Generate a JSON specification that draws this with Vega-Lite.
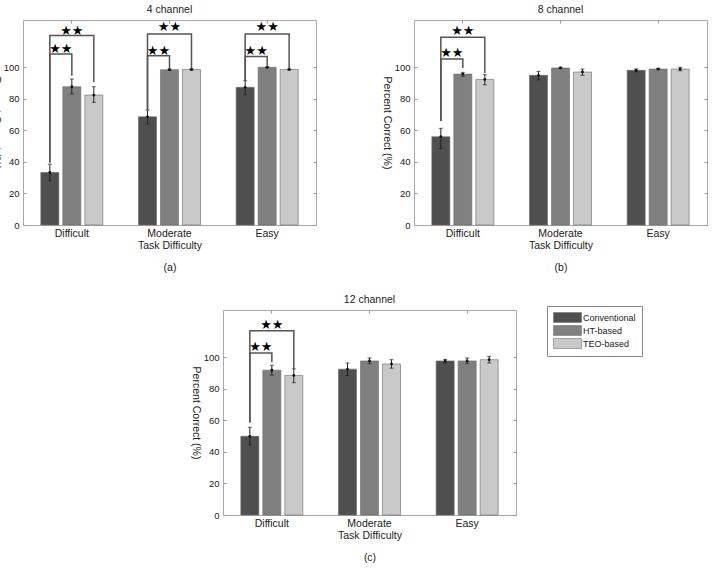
{
  "$schema": "https://vega.github.io/schema/vega-lite/v6.json",
  "background": "white",
  "padding": {"left": -11, "top": 4, "right": 0, "bottom": 0},
  "config": {
    "font": "Liberation Sans",
    "view": {"stroke": "#a8a8a8", "strokeWidth": 1},
    "axis": {"labelFont": "Liberation Sans", "labelFontSize": 10.5, "labelColor": "#222", "titleFont": "Liberation Sans", "titleFontSize": 10.5, "titleFontWeight": "normal", "titleColor": "#222", "tickColor": "#999", "domain": false, "grid": false},
    "axisY": {"labelFontSize": 9.5},
    "title": {"fontSize": 10.5, "fontWeight": "normal", "color": "#222", "frame": "group", "offset": 4, "font": "Liberation Sans"},
    "legend": {"orient": "none", "legendX": 524, "legendY": 286, "symbolType": "M-2.8,-1H2.8V1H-2.8Z", "symbolSize": 100, "symbolStrokeWidth": 0.6, "symbolStrokeColor": "#777", "labelFont": "Liberation Sans", "labelFontSize": 9, "labelColor": "#222", "strokeColor": "#888", "fillColor": "white", "padding": 6, "rowPadding": 0, "symbolOffset": 9, "labelOffset": 10}
  },
  "datasets": {
    "bars": [
      {"panel": "4 channel", "diff": "Difficult", "series": "Conventional", "mean": 33.3, "lo": 28.0, "hi": 38.6},
      {"panel": "4 channel", "diff": "Difficult", "series": "HT-based", "mean": 87.7, "lo": 83.1, "hi": 92.6},
      {"panel": "4 channel", "diff": "Difficult", "series": "TEO-based", "mean": 82.4, "lo": 77.8, "hi": 87.7},
      {"panel": "4 channel", "diff": "Moderate", "series": "Conventional", "mean": 68.6, "lo": 64.0, "hi": 72.9},
      {"panel": "4 channel", "diff": "Moderate", "series": "HT-based", "mean": 98.5, "lo": 98.0, "hi": 99.0},
      {"panel": "4 channel", "diff": "Moderate", "series": "TEO-based", "mean": 98.6, "lo": 98.2, "hi": 99.0},
      {"panel": "4 channel", "diff": "Easy", "series": "Conventional", "mean": 87.3, "lo": 82.6, "hi": 91.5},
      {"panel": "4 channel", "diff": "Easy", "series": "HT-based", "mean": 100.0, "lo": 99.7, "hi": 100.3},
      {"panel": "4 channel", "diff": "Easy", "series": "TEO-based", "mean": 98.6, "lo": 98.3, "hi": 98.9},
      {"panel": "8 channel", "diff": "Difficult", "series": "Conventional", "mean": 56.0, "lo": 48.5, "hi": 61.3},
      {"panel": "8 channel", "diff": "Difficult", "series": "HT-based", "mean": 95.7, "lo": 94.3, "hi": 96.8},
      {"panel": "8 channel", "diff": "Difficult", "series": "TEO-based", "mean": 92.3, "lo": 88.9, "hi": 95.3},
      {"panel": "8 channel", "diff": "Moderate", "series": "Conventional", "mean": 94.9, "lo": 92.1, "hi": 97.4},
      {"panel": "8 channel", "diff": "Moderate", "series": "HT-based", "mean": 99.6, "lo": 99.2, "hi": 100.0},
      {"panel": "8 channel", "diff": "Moderate", "series": "TEO-based", "mean": 97.0, "lo": 94.9, "hi": 98.9},
      {"panel": "8 channel", "diff": "Easy", "series": "Conventional", "mean": 98.1, "lo": 97.2, "hi": 99.0},
      {"panel": "8 channel", "diff": "Easy", "series": "HT-based", "mean": 98.9, "lo": 98.5, "hi": 99.4},
      {"panel": "8 channel", "diff": "Easy", "series": "TEO-based", "mean": 98.9, "lo": 97.8, "hi": 100.0},
      {"panel": "12 channel", "diff": "Difficult", "series": "Conventional", "mean": 49.9, "lo": 44.4, "hi": 55.6},
      {"panel": "12 channel", "diff": "Difficult", "series": "HT-based", "mean": 91.8, "lo": 88.7, "hi": 95.0},
      {"panel": "12 channel", "diff": "Difficult", "series": "TEO-based", "mean": 88.5, "lo": 83.9, "hi": 92.7},
      {"panel": "12 channel", "diff": "Moderate", "series": "Conventional", "mean": 92.5, "lo": 88.5, "hi": 96.4},
      {"panel": "12 channel", "diff": "Moderate", "series": "HT-based", "mean": 97.7, "lo": 96.0, "hi": 99.6},
      {"panel": "12 channel", "diff": "Moderate", "series": "TEO-based", "mean": 95.8, "lo": 93.1, "hi": 98.5},
      {"panel": "12 channel", "diff": "Easy", "series": "Conventional", "mean": 97.7, "lo": 96.4, "hi": 98.7},
      {"panel": "12 channel", "diff": "Easy", "series": "HT-based", "mean": 97.7, "lo": 96.0, "hi": 99.6},
      {"panel": "12 channel", "diff": "Easy", "series": "TEO-based", "mean": 98.5, "lo": 96.4, "hi": 100.6}
    ],
    "brackets": [
      {"panel": "4 channel", "diff": "Difficult", "br": "a-d-in", "k": 1, "series": "Conventional", "y": 39.6},
      {"panel": "4 channel", "diff": "Difficult", "br": "a-d-in", "k": 2, "series": "Conventional", "y": 108.5},
      {"panel": "4 channel", "diff": "Difficult", "br": "a-d-in", "k": 3, "series": "HT-based", "y": 108.5},
      {"panel": "4 channel", "diff": "Difficult", "br": "a-d-in", "k": 4, "series": "HT-based", "y": 94.7},
      {"panel": "4 channel", "diff": "Difficult", "br": "a-d-out", "k": 1, "series": "Conventional", "y": 39.6},
      {"panel": "4 channel", "diff": "Difficult", "br": "a-d-out", "k": 2, "series": "Conventional", "y": 120.2},
      {"panel": "4 channel", "diff": "Difficult", "br": "a-d-out", "k": 3, "series": "TEO-based", "y": 120.2},
      {"panel": "4 channel", "diff": "Difficult", "br": "a-d-out", "k": 4, "series": "TEO-based", "y": 90.5},
      {"panel": "4 channel", "diff": "Moderate", "br": "a-m-in", "k": 1, "series": "Conventional", "y": 72.5},
      {"panel": "4 channel", "diff": "Moderate", "br": "a-m-in", "k": 2, "series": "Conventional", "y": 107.4},
      {"panel": "4 channel", "diff": "Moderate", "br": "a-m-in", "k": 3, "series": "HT-based", "y": 107.4},
      {"panel": "4 channel", "diff": "Moderate", "br": "a-m-in", "k": 4, "series": "HT-based", "y": 99.3},
      {"panel": "4 channel", "diff": "Moderate", "br": "a-m-out", "k": 1, "series": "Conventional", "y": 72.5},
      {"panel": "4 channel", "diff": "Moderate", "br": "a-m-out", "k": 2, "series": "Conventional", "y": 121.2},
      {"panel": "4 channel", "diff": "Moderate", "br": "a-m-out", "k": 3, "series": "TEO-based", "y": 121.2},
      {"panel": "4 channel", "diff": "Moderate", "br": "a-m-out", "k": 4, "series": "TEO-based", "y": 99.3},
      {"panel": "4 channel", "diff": "Easy", "br": "a-e-in", "k": 1, "series": "Conventional", "y": 91.5},
      {"panel": "4 channel", "diff": "Easy", "br": "a-e-in", "k": 2, "series": "Conventional", "y": 106.8},
      {"panel": "4 channel", "diff": "Easy", "br": "a-e-in", "k": 3, "series": "HT-based", "y": 106.8},
      {"panel": "4 channel", "diff": "Easy", "br": "a-e-in", "k": 4, "series": "HT-based", "y": 100.5},
      {"panel": "4 channel", "diff": "Easy", "br": "a-e-out", "k": 1, "series": "Conventional", "y": 91.5},
      {"panel": "4 channel", "diff": "Easy", "br": "a-e-out", "k": 2, "series": "Conventional", "y": 121.2},
      {"panel": "4 channel", "diff": "Easy", "br": "a-e-out", "k": 3, "series": "TEO-based", "y": 121.2},
      {"panel": "4 channel", "diff": "Easy", "br": "a-e-out", "k": 4, "series": "TEO-based", "y": 99.2},
      {"panel": "8 channel", "diff": "Difficult", "br": "b-d-in", "k": 1, "series": "Conventional", "y": 66.0},
      {"panel": "8 channel", "diff": "Difficult", "br": "b-d-in", "k": 2, "series": "Conventional", "y": 105.3},
      {"panel": "8 channel", "diff": "Difficult", "br": "b-d-in", "k": 3, "series": "HT-based", "y": 105.3},
      {"panel": "8 channel", "diff": "Difficult", "br": "b-d-in", "k": 4, "series": "HT-based", "y": 99.6},
      {"panel": "8 channel", "diff": "Difficult", "br": "b-d-out", "k": 1, "series": "Conventional", "y": 66.0},
      {"panel": "8 channel", "diff": "Difficult", "br": "b-d-out", "k": 2, "series": "Conventional", "y": 119.1},
      {"panel": "8 channel", "diff": "Difficult", "br": "b-d-out", "k": 3, "series": "TEO-based", "y": 119.1},
      {"panel": "8 channel", "diff": "Difficult", "br": "b-d-out", "k": 4, "series": "TEO-based", "y": 96.4},
      {"panel": "12 channel", "diff": "Difficult", "br": "c-d-in", "k": 1, "series": "Conventional", "y": 58.7},
      {"panel": "12 channel", "diff": "Difficult", "br": "c-d-in", "k": 2, "series": "Conventional", "y": 102.7},
      {"panel": "12 channel", "diff": "Difficult", "br": "c-d-in", "k": 3, "series": "HT-based", "y": 102.7},
      {"panel": "12 channel", "diff": "Difficult", "br": "c-d-in", "k": 4, "series": "HT-based", "y": 96.9},
      {"panel": "12 channel", "diff": "Difficult", "br": "c-d-out", "k": 1, "series": "Conventional", "y": 58.7},
      {"panel": "12 channel", "diff": "Difficult", "br": "c-d-out", "k": 2, "series": "Conventional", "y": 116.8},
      {"panel": "12 channel", "diff": "Difficult", "br": "c-d-out", "k": 3, "series": "TEO-based", "y": 116.8},
      {"panel": "12 channel", "diff": "Difficult", "br": "c-d-out", "k": 4, "series": "TEO-based", "y": 92.3}
    ],
    "stars": [
      {"panel": "4 channel", "diff": "Difficult", "kind": "inner", "series": "Conventional", "y": 111.9},
      {"panel": "4 channel", "diff": "Difficult", "kind": "outer", "series": "HT-based", "y": 123.3},
      {"panel": "4 channel", "diff": "Moderate", "kind": "inner", "series": "Conventional", "y": 110.2},
      {"panel": "4 channel", "diff": "Moderate", "kind": "outer", "series": "HT-based", "y": 125.4},
      {"panel": "4 channel", "diff": "Easy", "kind": "inner", "series": "Conventional", "y": 110.6},
      {"panel": "4 channel", "diff": "Easy", "kind": "outer", "series": "HT-based", "y": 125.4},
      {"panel": "8 channel", "diff": "Difficult", "kind": "inner", "series": "Conventional", "y": 108.9},
      {"panel": "8 channel", "diff": "Difficult", "kind": "outer", "series": "HT-based", "y": 123.0},
      {"panel": "12 channel", "diff": "Difficult", "kind": "inner", "series": "Conventional", "y": 106.3},
      {"panel": "12 channel", "diff": "Difficult", "kind": "outer", "series": "HT-based", "y": 120.6}
    ]
  },
  "spacing": 20,
  "vconcat": [
    {
      "spacing": 63,
      "hconcat": [
        {
          "width": 293, "height": 205,
          "title": "4 channel",
          "resolve": {"axis": {"x": "independent", "y": "independent"}},
          "encoding": {
            "x": {"field": "diff", "type": "nominal", "sort": ["Difficult", "Moderate", "Easy"], "scale": {"paddingInner": 0.365, "paddingOuter": 0.1825}, "axis": null},
            "xOffset": {"field": "series", "type": "nominal", "sort": ["Conventional", "HT-based", "TEO-based"], "scale": {"paddingInner": 0.18, "paddingOuter": 0}}
          },
          "layer": [
            {"data": {"name": "bars"}, "transform": [{"filter": "datum.panel === '4 channel'"}],
             "mark": {"type": "bar", "stroke": "#6a6a6a", "strokeWidth": 0.6},
             "encoding": {
               "x": {"field": "diff", "type": "nominal", "sort": ["Difficult", "Moderate", "Easy"], "axis": {"orient": "bottom", "title": ["Task Difficulty", "(a)"], "labelAngle": 0, "ticks": false, "labelPadding": 3, "titlePadding": 2, "titleLineHeight": 22}},
               "y": {"field": "mean", "type": "quantitative", "scale": {"domain": [0, 130], "nice": false}, "axis": {"orient": "left", "values": [0, 20, 40, 60, 80, 100], "ticks": false, "labelPadding": 4, "title": "Percent Correct (%)", "titleAngle": 90, "titleBaseline": "top", "titlePadding": 3}},
               "color": {"field": "series", "type": "nominal", "sort": ["Conventional", "HT-based", "TEO-based"], "scale": {"domain": ["Conventional", "HT-based", "TEO-based"], "range": ["#4f4f4f", "#808080", "#c9c9c9"]}, "legend": {"title": null}}
             }},
            {"data": {"name": "bars"}, "transform": [{"filter": "datum.panel === '4 channel'"}],
             "mark": {"type": "rule", "color": "#222", "strokeWidth": 1},
             "encoding": {
               "x": {"field": "diff", "type": "nominal", "sort": ["Difficult", "Moderate", "Easy"], "axis": {"orient": "top", "labels": false, "tickSize": -3, "title": null}},
               "y": {"field": "lo", "type": "quantitative", "axis": {"orient": "right", "labels": false, "values": [0, 20, 40, 60, 80, 100], "tickSize": -3, "title": null}},
               "y2": {"field": "hi"}
             }},
            {"data": {"name": "bars"}, "transform": [{"filter": "datum.panel === '4 channel'"}],
             "mark": {"type": "tick", "color": "#222", "size": 4, "thickness": 1},
             "encoding": {
               "x": {"field": "diff", "type": "nominal", "sort": ["Difficult", "Moderate", "Easy"], "axis": {"orient": "bottom", "labels": false, "tickSize": -3, "title": null}},
               "y": {"field": "lo", "type": "quantitative", "axis": {"orient": "left", "labels": false, "values": [0, 20, 40, 60, 80, 100], "tickSize": -3, "title": null}}
             }},
            {"data": {"name": "bars"}, "transform": [{"filter": "datum.panel === '4 channel'"}],
             "mark": {"type": "tick", "color": "#222", "size": 4, "thickness": 1},
             "encoding": {"y": {"field": "hi", "type": "quantitative", "axis": null}}},
            {"data": {"name": "bars"}, "transform": [{"filter": "datum.panel === '4 channel'"}],
             "mark": {"type": "point", "filled": true, "color": "#111", "size": 8, "opacity": 1},
             "encoding": {"y": {"field": "mean", "type": "quantitative", "axis": null}}},
            {"data": {"name": "brackets"}, "transform": [{"filter": "datum.panel === '4 channel'"}],
             "mark": {"type": "line", "color": "#555", "strokeWidth": 1.5},
             "encoding": {"y": {"field": "y", "type": "quantitative", "axis": null}, "detail": {"field": "br"}, "order": {"field": "k"}}},
            {"data": {"name": "stars"}, "transform": [{"filter": "datum.panel === '4 channel' && datum.kind === 'inner'"}],
             "mark": {"type": "text", "text": "★★", "font": "DejaVu Sans", "fontSize": 13, "dx": 11, "baseline": "middle", "color": "#000"},
             "encoding": {"y": {"field": "y", "type": "quantitative", "axis": null}}},
            {"data": {"name": "stars"}, "transform": [{"filter": "datum.panel === '4 channel' && datum.kind === 'outer'"}],
             "mark": {"type": "text", "text": "★★", "font": "DejaVu Sans", "fontSize": 13, "baseline": "middle", "color": "#000"},
             "encoding": {"y": {"field": "y", "type": "quantitative", "axis": null}}}
          ]
        },
        {
          "width": 293, "height": 205,
          "title": "8 channel",
          "resolve": {"axis": {"x": "independent", "y": "independent"}},
          "encoding": {
            "x": {"field": "diff", "type": "nominal", "sort": ["Difficult", "Moderate", "Easy"], "scale": {"paddingInner": 0.365, "paddingOuter": 0.1825}, "axis": null},
            "xOffset": {"field": "series", "type": "nominal", "sort": ["Conventional", "HT-based", "TEO-based"], "scale": {"paddingInner": 0.18, "paddingOuter": 0}}
          },
          "layer": [
            {"data": {"name": "bars"}, "transform": [{"filter": "datum.panel === '8 channel'"}],
             "mark": {"type": "bar", "stroke": "#6a6a6a", "strokeWidth": 0.6},
             "encoding": {
               "x": {"field": "diff", "type": "nominal", "sort": ["Difficult", "Moderate", "Easy"], "axis": {"orient": "bottom", "title": ["Task Difficulty", "(b)"], "labelAngle": 0, "ticks": false, "labelPadding": 3, "titlePadding": 2, "titleLineHeight": 22}},
               "y": {"field": "mean", "type": "quantitative", "scale": {"domain": [0, 130], "nice": false}, "axis": {"orient": "left", "values": [0, 20, 40, 60, 80, 100], "ticks": false, "labelPadding": 4, "title": "Percent Correct (%)", "titleAngle": 90, "titleBaseline": "top", "titlePadding": 3}},
               "color": {"field": "series", "type": "nominal", "sort": ["Conventional", "HT-based", "TEO-based"], "scale": {"domain": ["Conventional", "HT-based", "TEO-based"], "range": ["#4f4f4f", "#808080", "#c9c9c9"]}, "legend": null}
             }},
            {"data": {"name": "bars"}, "transform": [{"filter": "datum.panel === '8 channel'"}],
             "mark": {"type": "rule", "color": "#222", "strokeWidth": 1},
             "encoding": {
               "x": {"field": "diff", "type": "nominal", "sort": ["Difficult", "Moderate", "Easy"], "axis": {"orient": "top", "labels": false, "tickSize": -3, "title": null}},
               "y": {"field": "lo", "type": "quantitative", "axis": {"orient": "right", "labels": false, "values": [0, 20, 40, 60, 80, 100], "tickSize": -3, "title": null}},
               "y2": {"field": "hi"}
             }},
            {"data": {"name": "bars"}, "transform": [{"filter": "datum.panel === '8 channel'"}],
             "mark": {"type": "tick", "color": "#222", "size": 4, "thickness": 1},
             "encoding": {
               "x": {"field": "diff", "type": "nominal", "sort": ["Difficult", "Moderate", "Easy"], "axis": {"orient": "bottom", "labels": false, "tickSize": -3, "title": null}},
               "y": {"field": "lo", "type": "quantitative", "axis": {"orient": "left", "labels": false, "values": [0, 20, 40, 60, 80, 100], "tickSize": -3, "title": null}}
             }},
            {"data": {"name": "bars"}, "transform": [{"filter": "datum.panel === '8 channel'"}],
             "mark": {"type": "tick", "color": "#222", "size": 4, "thickness": 1},
             "encoding": {"y": {"field": "hi", "type": "quantitative", "axis": null}}},
            {"data": {"name": "bars"}, "transform": [{"filter": "datum.panel === '8 channel'"}],
             "mark": {"type": "point", "filled": true, "color": "#111", "size": 8, "opacity": 1},
             "encoding": {"y": {"field": "mean", "type": "quantitative", "axis": null}}},
            {"data": {"name": "brackets"}, "transform": [{"filter": "datum.panel === '8 channel'"}],
             "mark": {"type": "line", "color": "#555", "strokeWidth": 1.5},
             "encoding": {"y": {"field": "y", "type": "quantitative", "axis": null}, "detail": {"field": "br"}, "order": {"field": "k"}}},
            {"data": {"name": "stars"}, "transform": [{"filter": "datum.panel === '8 channel' && datum.kind === 'inner'"}],
             "mark": {"type": "text", "text": "★★", "font": "DejaVu Sans", "fontSize": 13, "dx": 11, "baseline": "middle", "color": "#000"},
             "encoding": {"y": {"field": "y", "type": "quantitative", "axis": null}}},
            {"data": {"name": "stars"}, "transform": [{"filter": "datum.panel === '8 channel' && datum.kind === 'outer'"}],
             "mark": {"type": "text", "text": "★★", "font": "DejaVu Sans", "fontSize": 13, "baseline": "middle", "color": "#000"},
             "encoding": {"y": {"field": "y", "type": "quantitative", "axis": null}}}
          ]
        }
      ]
    },
    {
      "spacing": 20,
      "hconcat": [
        {"width": 146, "height": 10, "data": {"values": []}, "mark": "point", "view": {"stroke": null}},
        {
          "width": 293, "height": 205,
          "title": "12 channel",
          "resolve": {"axis": {"x": "independent", "y": "independent"}},
          "encoding": {
            "x": {"field": "diff", "type": "nominal", "sort": ["Difficult", "Moderate", "Easy"], "scale": {"paddingInner": 0.365, "paddingOuter": 0.1825}, "axis": null},
            "xOffset": {"field": "series", "type": "nominal", "sort": ["Conventional", "HT-based", "TEO-based"], "scale": {"paddingInner": 0.18, "paddingOuter": 0}}
          },
          "layer": [
            {"data": {"name": "bars"}, "transform": [{"filter": "datum.panel === '12 channel'"}],
             "mark": {"type": "bar", "stroke": "#6a6a6a", "strokeWidth": 0.6},
             "encoding": {
               "x": {"field": "diff", "type": "nominal", "sort": ["Difficult", "Moderate", "Easy"], "axis": {"orient": "bottom", "title": ["Task Difficulty", "(c)"], "labelAngle": 0, "ticks": false, "labelPadding": 3, "titlePadding": 2, "titleLineHeight": 22}},
               "y": {"field": "mean", "type": "quantitative", "scale": {"domain": [0, 130], "nice": false}, "axis": {"orient": "left", "values": [0, 20, 40, 60, 80, 100], "ticks": false, "labelPadding": 4, "title": "Percent Correct (%)", "titleAngle": 90, "titleBaseline": "top", "titlePadding": 3}},
               "color": {"field": "series", "type": "nominal", "sort": ["Conventional", "HT-based", "TEO-based"], "scale": {"domain": ["Conventional", "HT-based", "TEO-based"], "range": ["#4f4f4f", "#808080", "#c9c9c9"]}, "legend": null}
             }},
            {"data": {"name": "bars"}, "transform": [{"filter": "datum.panel === '12 channel'"}],
             "mark": {"type": "rule", "color": "#222", "strokeWidth": 1},
             "encoding": {
               "x": {"field": "diff", "type": "nominal", "sort": ["Difficult", "Moderate", "Easy"], "axis": {"orient": "top", "labels": false, "tickSize": -3, "title": null}},
               "y": {"field": "lo", "type": "quantitative", "axis": {"orient": "right", "labels": false, "values": [0, 20, 40, 60, 80, 100], "tickSize": -3, "title": null}},
               "y2": {"field": "hi"}
             }},
            {"data": {"name": "bars"}, "transform": [{"filter": "datum.panel === '12 channel'"}],
             "mark": {"type": "tick", "color": "#222", "size": 4, "thickness": 1},
             "encoding": {
               "x": {"field": "diff", "type": "nominal", "sort": ["Difficult", "Moderate", "Easy"], "axis": {"orient": "bottom", "labels": false, "tickSize": -3, "title": null}},
               "y": {"field": "lo", "type": "quantitative", "axis": {"orient": "left", "labels": false, "values": [0, 20, 40, 60, 80, 100], "tickSize": -3, "title": null}}
             }},
            {"data": {"name": "bars"}, "transform": [{"filter": "datum.panel === '12 channel'"}],
             "mark": {"type": "tick", "color": "#222", "size": 4, "thickness": 1},
             "encoding": {"y": {"field": "hi", "type": "quantitative", "axis": null}}},
            {"data": {"name": "bars"}, "transform": [{"filter": "datum.panel === '12 channel'"}],
             "mark": {"type": "point", "filled": true, "color": "#111", "size": 8, "opacity": 1},
             "encoding": {"y": {"field": "mean", "type": "quantitative", "axis": null}}},
            {"data": {"name": "brackets"}, "transform": [{"filter": "datum.panel === '12 channel'"}],
             "mark": {"type": "line", "color": "#555", "strokeWidth": 1.5},
             "encoding": {"y": {"field": "y", "type": "quantitative", "axis": null}, "detail": {"field": "br"}, "order": {"field": "k"}}},
            {"data": {"name": "stars"}, "transform": [{"filter": "datum.panel === '12 channel' && datum.kind === 'inner'"}],
             "mark": {"type": "text", "text": "★★", "font": "DejaVu Sans", "fontSize": 13, "dx": 11, "baseline": "middle", "color": "#000"},
             "encoding": {"y": {"field": "y", "type": "quantitative", "axis": null}}},
            {"data": {"name": "stars"}, "transform": [{"filter": "datum.panel === '12 channel' && datum.kind === 'outer'"}],
             "mark": {"type": "text", "text": "★★", "font": "DejaVu Sans", "fontSize": 13, "baseline": "middle", "color": "#000"},
             "encoding": {"y": {"field": "y", "type": "quantitative", "axis": null}}}
          ]
        }
      ]
    }
  ]
}
